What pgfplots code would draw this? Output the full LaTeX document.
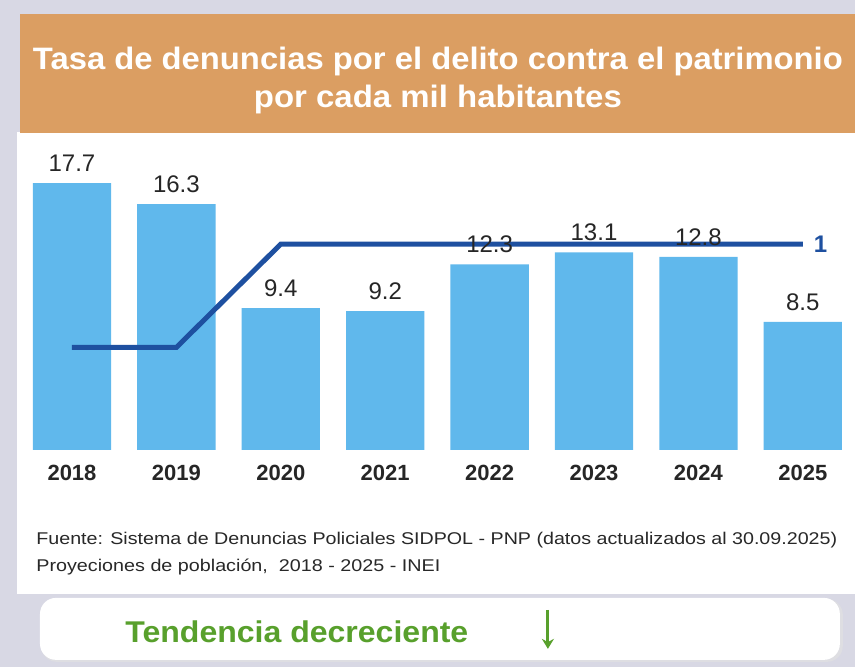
\documentclass[border=0pt]{standalone}
\usepackage{pgfplots}
\pgfplotsset{compat=1.18}
\usepackage{graphicx}
\usepackage{fontspec}
\setmainfont{Liberation Sans}
\usetikzlibrary{arrows.meta}
\definecolor{bgray}{RGB}{216,216,228}
\definecolor{band}{RGB}{219,158,98}
\definecolor{barblue}{RGB}{96,184,236}
\definecolor{lineblue}{RGB}{30,80,160}
\definecolor{tgreen}{RGB}{88,160,44}
\definecolor{foot}{RGB}{40,40,40}
\begin{document}
\begin{tikzpicture}
% background
\fill[bgray] (0pt,0pt) rectangle (427.5pt,-333.5pt);
\fill[white] (8.5pt,-66pt) rectangle (427.5pt,-297pt);
\fill[band] (10pt,-7pt) rectangle (427.5pt,-66.5pt);
% title
\node[text=white,font=\fontsize{15.5}{18}\selectfont\bfseries] at (219pt,-31pt)
  {\resizebox{405pt}{\height}{Tasa de denuncias por el delito contra el patrimonio}};
\node[text=white,font=\fontsize{15.5}{18}\selectfont\bfseries] at (219pt,-50pt)
  {\resizebox{184pt}{\height}{por cada mil habitantes}};
\begin{axis}[
  at={(9.9pt,-225pt)}, anchor=south west,
  scale only axis, width=417.7pt, height=150.8pt,
  xmin=-0.5, xmax=7.5, ymin=0, ymax=20,
  axis line style={draw=none},
  major tick length=0pt,
  ytick=\empty,
  xtick={0,1,2,3,4,5,6,7},
  xticklabels={2018,2019,2020,2021,2022,2023,2024,2025},
  xticklabel style={font=\fontsize{11}{13}\selectfont\bfseries, anchor=center, yshift=-11.5pt, text=black!85},
  clip=false,
]
\addplot[ybar, bar width=0.75, fill=barblue, draw=none,
  point meta=explicit symbolic,
  nodes near coords,
  nodes near coords style={font=\fontsize{12}{14}\selectfont, anchor=center, yshift=10pt, text=black!85}]
  coordinates {(0,17.7) [17.7] (1,16.3) [16.3] (2,9.4) [9.4] (3,9.2) [9.2]
               (4,12.3) [12.3] (5,13.1) [13.1] (6,12.8) [12.8] (7,8.5) [8.5]};
\addplot[lineblue, line width=2.5pt, mark=none]
  coordinates {(0,6.8) (1,6.8) (2,13.65) (3,13.65) (4,13.65) (5,13.65) (6,13.65) (7,13.65)}
  node[pos=1, anchor=west, xshift=1pt, font=\fontsize{12}{14}\selectfont\bfseries, text=lineblue] {1};
\end{axis}
% footnote
\node[anchor=base west, inner sep=0pt, text=foot, font=\fontsize{8.5}{10}\selectfont] at (18pt,-272.5pt)
  {\resizebox{400.5pt}{\height}{Fuente: Sistema de Denuncias Policiales SIDPOL - PNP (datos actualizados al 30.09.2025)}};
\node[anchor=base west, inner sep=0pt, text=foot, font=\fontsize{8.5}{10}\selectfont] at (18pt,-286pt)
  {\resizebox{202pt}{\height}{Proyeciones de población,\ \ 2018 - 2025 - INEI}};
% bottom box
\fill[bgray!80!black!40, rounded corners=8pt] (20.5pt,-299.5pt) rectangle (421.5pt,-331pt);
\fill[white, rounded corners=8pt] (20pt,-299pt) rectangle (420pt,-330pt);
\node[anchor=west, inner sep=0pt, text=tgreen, font=\fontsize{15}{18}\selectfont\bfseries] at (62.5pt,-316pt)
  {\resizebox{171.5pt}{\height}{Tendencia decreciente}};
\draw[tgreen, line width=1.6pt, -{Stealth[length=5pt,width=6pt]}] (274pt,-305pt) -- (274pt,-324.5pt);
\end{tikzpicture}
\end{document}
